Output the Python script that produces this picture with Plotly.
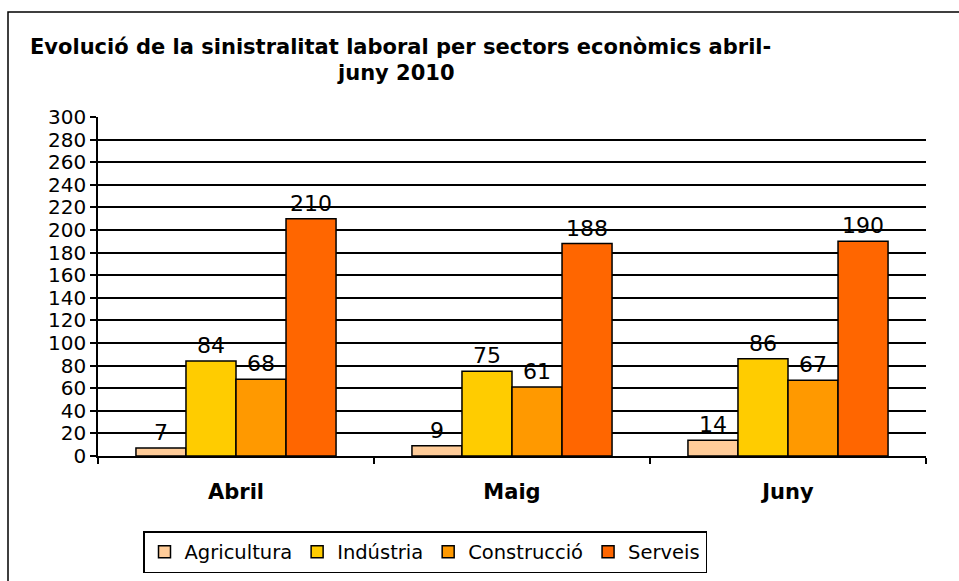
import plotly.graph_objects as go

months = ["Abril", "Maig", "Juny"]
agricultura = [7, 9, 14]
industria = [84, 75, 86]
construccio = [68, 61, 67]
serveis = [210, 188, 190]
series_names = ["Agricultura", "Indústria", "Construcció", "Serveis"]
series_colors = ["#FFCC99", "#FFCC00", "#FF9900", "#FF6600"]
y_ticks = list(range(0, 301, 20))
title_lines = ["Evolució de la sinistralitat laboral per sectors econòmics abril-", "juny 2010"]

W, H = 959, 581
L, R, T, B = 98, 33, 117, 125

FONT = "DejaVu Sans"
fig = go.Figure()
for name, vals, col in zip(series_names, [agricultura, industria, construccio, serveis], series_colors):
    fig.add_trace(go.Bar(
        x=[f"<b>{m}</b>" for m in months], y=vals, name=name,
        marker=dict(color=col, line=dict(color="black", width=1.5)),
        text=[str(v) for v in vals], textposition="outside",
        textfont=dict(family=FONT, size=22, color="black"),
        cliponaxis=False,
    ))

pw = W - L - R
ph = H - T - B
def px_x(x):
    return (x - L) / pw
def px_y(y):
    return (H - B - y) / ph

fig.update_layout(
    width=W, height=H,
    margin=dict(l=L, r=R, t=T, b=B, autoexpand=False),
    paper_bgcolor="white", plot_bgcolor="white",
    barmode="group", bargap=0.275, bargroupgap=0,
    font=dict(family=FONT, color="black", size=20),
    showlegend=True,
    legend=dict(
        orientation="h", x=px_x(425), xanchor="center", y=px_y(531), yanchor="top",
        bordercolor="black", borderwidth=1.5, bgcolor="white",
        font=dict(family=FONT, size=19.5, color="black"),
        traceorder="normal",
    ),
    xaxis=dict(
        showline=True, linecolor="black", linewidth=1.5,
        ticks="outside", tickson="boundaries", ticklen=6, tickcolor="black", tickwidth=1.5,
        tickfont=dict(family=FONT, size=21, color="black"),
        ticklabelstandoff=16, automargin=False,
        showgrid=False,
    ),
    yaxis=dict(
        range=[0, 300], tickvals=y_ticks, ticktext=[str(v) for v in y_ticks],
        showline=True, linecolor="black", linewidth=1.5,
        ticks="outside", ticklen=6, tickcolor="black", tickwidth=1.5,
        showgrid=True, gridcolor="black", gridwidth=1.5,
        tickfont=dict(family=FONT, size=20, color="black"),
        zeroline=False, automargin=False,
    ),
    shapes=[dict(
        type="rect", xref="paper", yref="paper",
        x0=px_x(8), x1=px_x(975), y0=px_y(600), y1=px_y(12),
        line=dict(color="black", width=1.5), fillcolor="rgba(0,0,0,0)", layer="below",
    )],
    annotations=[
        dict(text=f"<b>{title_lines[0]}</b>", xref="paper", yref="paper",
             x=px_x(400), y=px_y(47), xanchor="center", yanchor="middle",
             showarrow=False, font=dict(family=FONT, size=21, color="black")),
        dict(text=f"<b>{title_lines[1]}</b>", xref="paper", yref="paper",
             x=px_x(396), y=px_y(73), xanchor="center", yanchor="middle",
             showarrow=False, font=dict(family=FONT, size=21, color="black")),
    ],
)

fig.write_html("out.html")
